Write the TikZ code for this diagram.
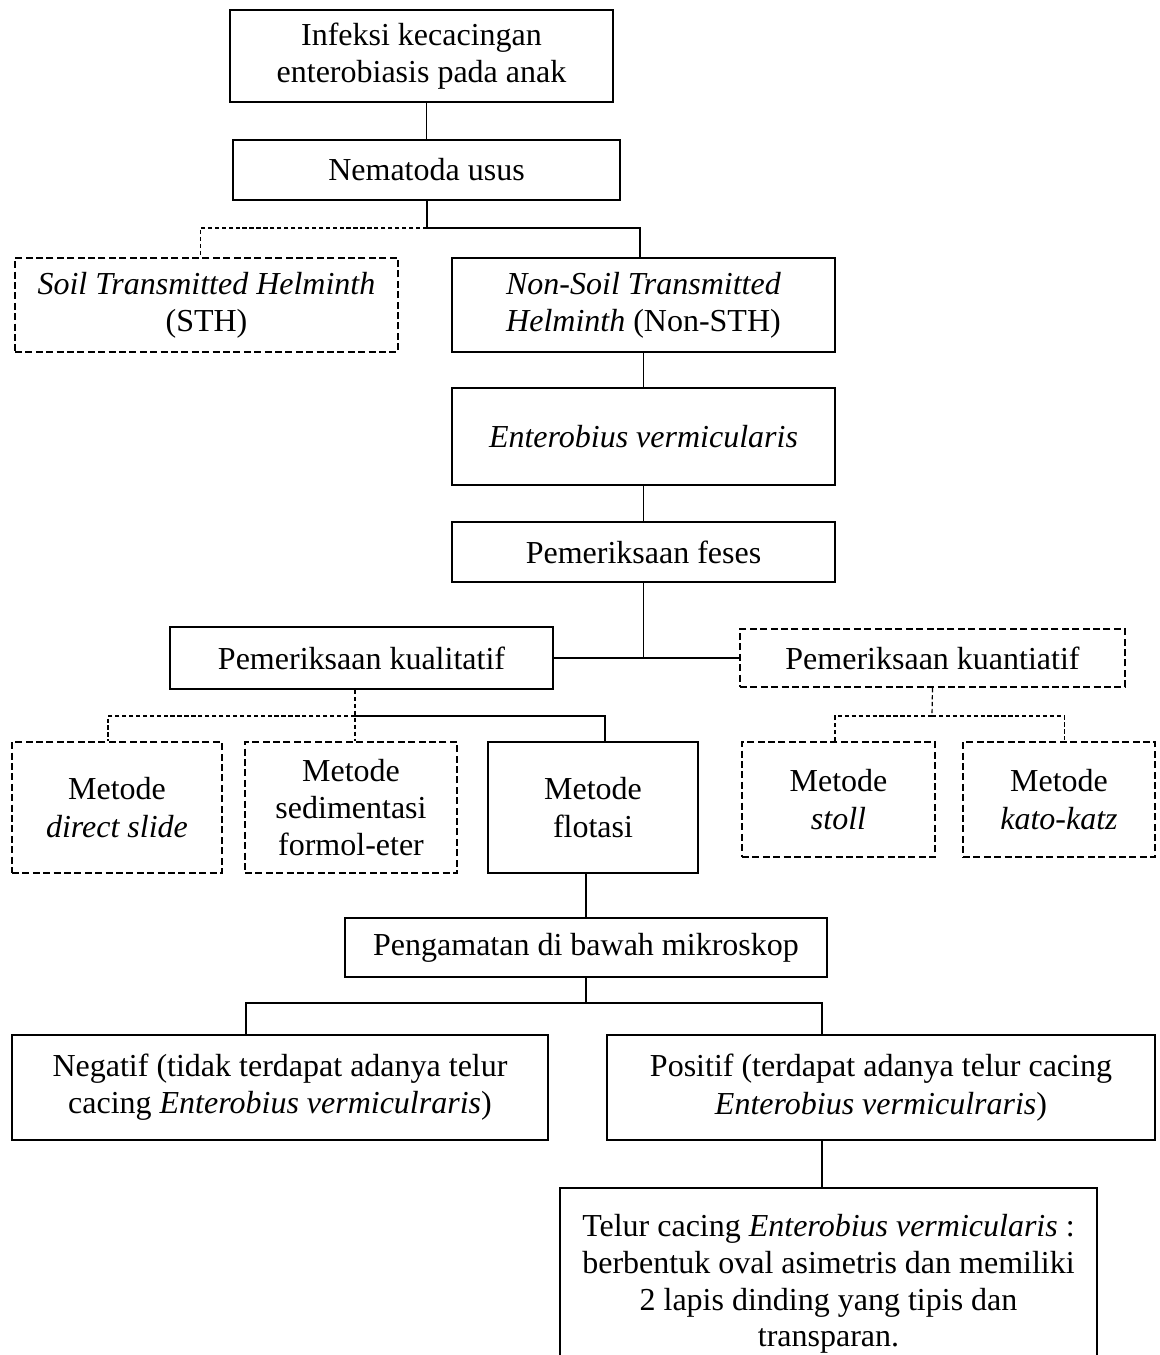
\documentclass[tikz,border=0pt]{standalone}
\usepackage{fontspec}
\setmainfont{Liberation Serif}
\tikzset{
    box/.style={draw,line width=0.8pt,align=center,inner sep=0pt,font=\fontsize{12pt}{14pt}\selectfont},
    dbox/.style={box,dash pattern=on 2.6pt off 1.3pt},
    wh/.style 2 args={minimum width=#1*0.375pt,minimum height=#2*0.375pt},
    link/.style={line width=0.45pt},
    dlink/.style={link,dash pattern=on 1.6pt off 1pt},
}

\begin{document}
\begin{tikzpicture}[x=0.375pt,y=-0.375pt]
    \clip (0,0) rectangle (1160,1355);
    \node[box,wh={383}{92}] (infeksi) at (421.5,56) {Infeksi kecacingan\\enterobiasis pada anak};
    \node[box,wh={387}{60}] (nematoda) at (426.5,170) {Nematoda usus};
    \node[dbox,wh={383}{94}] (sth) at (206.5,305) {\textit{Soil Transmitted Helminth}\\(STH)};
    \node[box,wh={383}{94}] (nonsth) at (643.5,305) {\textit{Non-Soil Transmitted}\\\textit{Helminth} (Non-STH)};
    \node[box,wh={383}{97}] (entero) at (643.5,436.5) {\textit{Enterobius vermicularis}};
    \node[box,wh={383}{60}] (feses) at (643.5,552) {Pemeriksaan feses};
    \node[box,wh={383}{62}] (kual) at (361.5,658) {Pemeriksaan kualitatif};
    \node[dbox,wh={385}{58}] (kuan) at (932.5,658) {Pemeriksaan kuantiatif};
    \node[dbox,wh={210}{131}] (direct) at (117,807.5) {Metode\\\textit{direct slide}};
    \node[dbox,wh={212}{131}] (sedimen) at (351,807.5) {Metode\\sedimentasi\\formol-eter};
    \node[box,wh={210}{131}] (flotasi) at (593,807.5) {Metode\\flotasi};
    \node[dbox,wh={193}{115}] (stoll) at (838.5,799.5) {Metode\\\textit{stoll}};
    \node[dbox,wh={192}{115}] (katokatz) at (1059,799.5) {Metode\\\textit{kato-katz}};
    \node[box,wh={482}{59}] (mikro) at (586,947.5) {Pengamatan di bawah mikroskop};
    \node[box,wh={536}{105}] (negatif) at (280,1087.5) {Negatif (tidak terdapat adanya telur\\cacing \textit{Enterobius vermiculraris})};
    \node[box,wh={548}{105}] (positif) at (881,1087.5) {Positif (terdapat adanya telur cacing\\\textit{Enterobius vermiculraris})};
    \node[box,wh={537}{192},font=\fontsize{12pt}{13.8pt}\selectfont] (telur) at (828.5,1284) {Telur cacing \textit{Enterobius vermicularis} :\\berbentuk oval asimetris dan memiliki\\2 lapis dinding yang tipis dan\\transparan.};

    \coordinate (j1) at (427,228);
    \coordinate (j2) at (355,716);
    \coordinate (j3) at (932,716);
    \coordinate (nj) at (246,1003);
    \coordinate (pj) at (822,1003);

    \draw[link] (nematoda.north) -- (nematoda.north |- infeksi.south);
    \draw[link] (j1 |- nematoda.south) -- (j1);
    \draw[dlink] (j1) -| ([xshift=-2.4pt]sth.north);
    \draw[link] (j1) -| ([xshift=-1.3pt]nonsth.north);
    \draw[link] (nonsth.south) -- (entero.north);
    \draw[link] (entero.south) -- (feses.north);
    \draw[link] (feses.south) -- (feses.south |- kual.east);
    \draw[link] (kual.east) -- (kuan.west);
    \draw[dlink] (j2 |- kual.south) -- (j2 |- sedimen.north);
    \draw[dlink] (j2) -| ([xshift=-3.4pt]direct.north);
    \draw[link] (j2) -| ([xshift=4.5pt]flotasi.north);
    \draw[dlink] (kuan.south) -- (j3);
    \draw[dlink] ([xshift=-1.3pt]stoll.north) |- (j3);
    \draw[dlink] (j3) -| ([xshift=2pt]katokatz.north);
    \draw[link] (mikro.north) -- (mikro.north |- flotasi.south);
    \draw[link] (mikro.south) -- (mikro.south |- nj);
    \draw[link] (nj |- negatif.north) -- (nj) -- (pj) -- (pj |- positif.north);
    \draw[link] (pj |- positif.south) -- (pj |- telur.north);
\end{tikzpicture}
\end{document}
